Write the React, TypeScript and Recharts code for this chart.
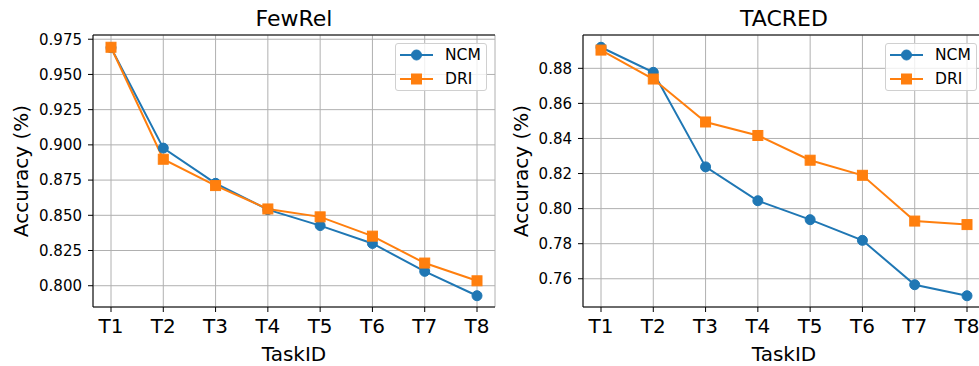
import React from 'react';
import { LineChart, Line, XAxis, YAxis, CartesianGrid, Legend, Label } from 'recharts';

const tasks = ['T1', 'T2', 'T3', 'T4', 'T5', 'T6', 'T7', 'T8'];
const seriesNames = ['NCM', 'DRI'];
const fewrelNCM = [0.969, 0.8977, 0.8727, 0.854, 0.8427, 0.830, 0.8102, 0.7929];
const fewrelDRI = [0.9693, 0.8898, 0.8711, 0.8545, 0.8489, 0.8352, 0.8161, 0.8035];
const tacredNCM = [0.892, 0.8777, 0.8238, 0.8045, 0.7937, 0.7819, 0.7566, 0.7503];
const tacredDRI = [0.8904, 0.8739, 0.8494, 0.8417, 0.8276, 0.819, 0.7929, 0.7909];
const fewrelTicks = [0.8, 0.825, 0.85, 0.875, 0.9, 0.925, 0.95, 0.975];
const tacredTicks = [0.76, 0.78, 0.8, 0.82, 0.84, 0.86, 0.88];
const fewrelDomain: [number, number] = [0.7849, 0.978];
const tacredDomain: [number, number] = [0.7439, 0.899];

const FONT = '"DejaVu Sans", Verdana, sans-serif';
const BLUE = '#1f77b4';
const ORANGE = '#ff7f0e';

const SquareDot = (props: any) => {
  const { cx, cy, index } = props;
  if (cx == null || cy == null) return <g key={index} />;
  return <rect key={index} x={cx - 5} y={cy - 5} width={10} height={10} fill={ORANGE} stroke={ORANGE} strokeWidth={1} />;
};

const MplLegend = (props: any) => {
  const payload = [...(props.payload || [])].sort(
    (a: any, b: any) => seriesNames.indexOf(a.value) - seriesNames.indexOf(b.value)
  );
  return (
    <div
      style={{
        width: 92,
        height: 48,
        border: '1px solid #d0d0d0',
        borderRadius: 3,
        background: 'rgba(255,255,255,0.8)',
        boxSizing: 'border-box',
        position: 'relative',
        fontFamily: FONT,
        fontSize: 15.5,
        color: '#000',
      }}
    >
      {payload.map((p: any, i: number) => (
        <div key={i} style={{ position: 'absolute', left: 0, top: i * 23.7 - 1, height: 24, width: 92 }}>
          <svg width={44} height={24} style={{ position: 'absolute', left: 0, top: 0 }}>
            <line x1={4} x2={37} y1={12} y2={12} stroke={p.color} strokeWidth={2} />
            {p.type === 'square' ? (
              <rect x={15.5} y={7} width={10} height={10} fill={p.color} stroke={p.color} strokeWidth={1} />
            ) : (
              <circle cx={20.5} cy={12} r={5} fill={p.color} stroke={p.color} strokeWidth={1} />
            )}
          </svg>
          <span style={{ position: 'absolute', left: 49, top: 2, lineHeight: '20px' }}>{p.value}</span>
        </div>
      ))}
    </div>
  );
};

type PanelProps = {
  title: string;
  ncm: number[];
  dri: number[];
  domain: [number, number];
  ticks: number[];
  decimals: number;
  left: number;
  ylabelX: number;
};

const Panel = ({ title, ncm, dri, domain, ticks, decimals, left, ylabelX }: PanelProps) => {
  const data = tasks.map((t, i) => ({ task: t, [seriesNames[0]]: ncm[i], [seriesNames[1]]: dri[i] }));
  return (
    <div style={{ position: 'absolute', left, top: 0, width: 500, height: 366 }}>
      <svg width={500} height={34} style={{ position: 'absolute', left: 0, top: 0 }}>
        <text x={294} y={26} textAnchor="middle" fontSize={22} fontFamily={FONT} fill="#000">
          {title}
        </text>
      </svg>
      <LineChart width={500} height={366} data={data} margin={{ top: 34, right: 5, bottom: 0, left: 0 }}>
        <CartesianGrid stroke="#b0b0b0" strokeWidth={1} />
        <XAxis
          dataKey="task"
          height={59}
          padding={{ left: 18, right: 18 }}
          tickSize={5}
          tickMargin={7}
          axisLine={{ stroke: '#000', strokeWidth: 1 }}
          tickLine={{ stroke: '#000', strokeWidth: 1 }}
          tick={{ fill: '#000', fontSize: 20, fontFamily: FONT }}
          interval={0}
        >
          <Label
            content={(p: any) => {
              const vb = p.viewBox || {};
              return (
                <text x={vb.x + vb.width / 2} y={361} textAnchor="middle" fontSize={20} fontFamily={FONT} fill="#000">
                  TaskID
                </text>
              );
            }}
          />
        </XAxis>
        <XAxis
          xAxisId="top"
          orientation="top"
          dataKey="task"
          height={1}
          tick={false}
          tickLine={false}
          axisLine={{ stroke: '#000', strokeWidth: 1 }}
        />
        <YAxis
          width={93}
          domain={domain}
          ticks={ticks}
          type="number"
          allowDataOverflow
          tickSize={5}
          tickMargin={6}
          axisLine={{ stroke: '#000', strokeWidth: 1 }}
          tickLine={{ stroke: '#000', strokeWidth: 1 }}
          tick={{ fill: '#000', fontSize: 15, fontFamily: FONT }}
          tickFormatter={(v: number) => v.toFixed(decimals)}
        >
          <Label
            content={(p: any) => {
              const vb = p.viewBox || {};
              const cy = vb.y + vb.height / 2;
              return (
                <text
                  transform={`translate(${ylabelX}, ${cy}) rotate(-90)`}
                  textAnchor="middle"
                  fontSize={20}
                  fontFamily={FONT}
                  fill="#000"
                >
                  Accuracy (%)
                </text>
              );
            }}
          />
        </YAxis>
        <YAxis
          yAxisId="right"
          orientation="right"
          width={0}
          domain={domain}
          type="number"
          tick={false}
          tickLine={false}
          axisLine={{ stroke: '#000', strokeWidth: 1 }}
        />
        <Legend
          layout="horizontal"
          verticalAlign="middle"
          align="center"
          content={<MplLegend />}
          wrapperStyle={{ left: 395, top: 43, width: 92, height: 48 }}
        />
        <Line
          dataKey={seriesNames[0]}
          name={seriesNames[0]}
          stroke={BLUE}
          strokeWidth={2}
          legendType="circle"
          dot={{ r: 5, fill: BLUE, stroke: BLUE, strokeWidth: 1 }}
          activeDot={false}
          isAnimationActive={false}
        />
        <Line
          dataKey={seriesNames[1]}
          name={seriesNames[1]}
          stroke={ORANGE}
          strokeWidth={2}
          legendType="square"
          dot={(p: any) => <SquareDot {...p} key={p.index} />}
          activeDot={false}
          isAnimationActive={false}
        />
      </LineChart>
    </div>
  );
};

export default function App() {
  return (
    <div
      style={{
        position: 'fixed',
        left: 0,
        top: 0,
        width: 979,
        height: 366,
        overflow: 'hidden',
        background: '#fff',
      }}
    >
      <Panel title="FewRel" ncm={fewrelNCM} dri={fewrelDRI} domain={fewrelDomain} ticks={fewrelTicks} decimals={3} left={0} ylabelX={28} />
      <Panel title="TACRED" ncm={tacredNCM} dri={tacredDRI} domain={tacredDomain} ticks={tacredTicks} decimals={2} left={490} ylabelX={38} />
    </div>
  );
}
